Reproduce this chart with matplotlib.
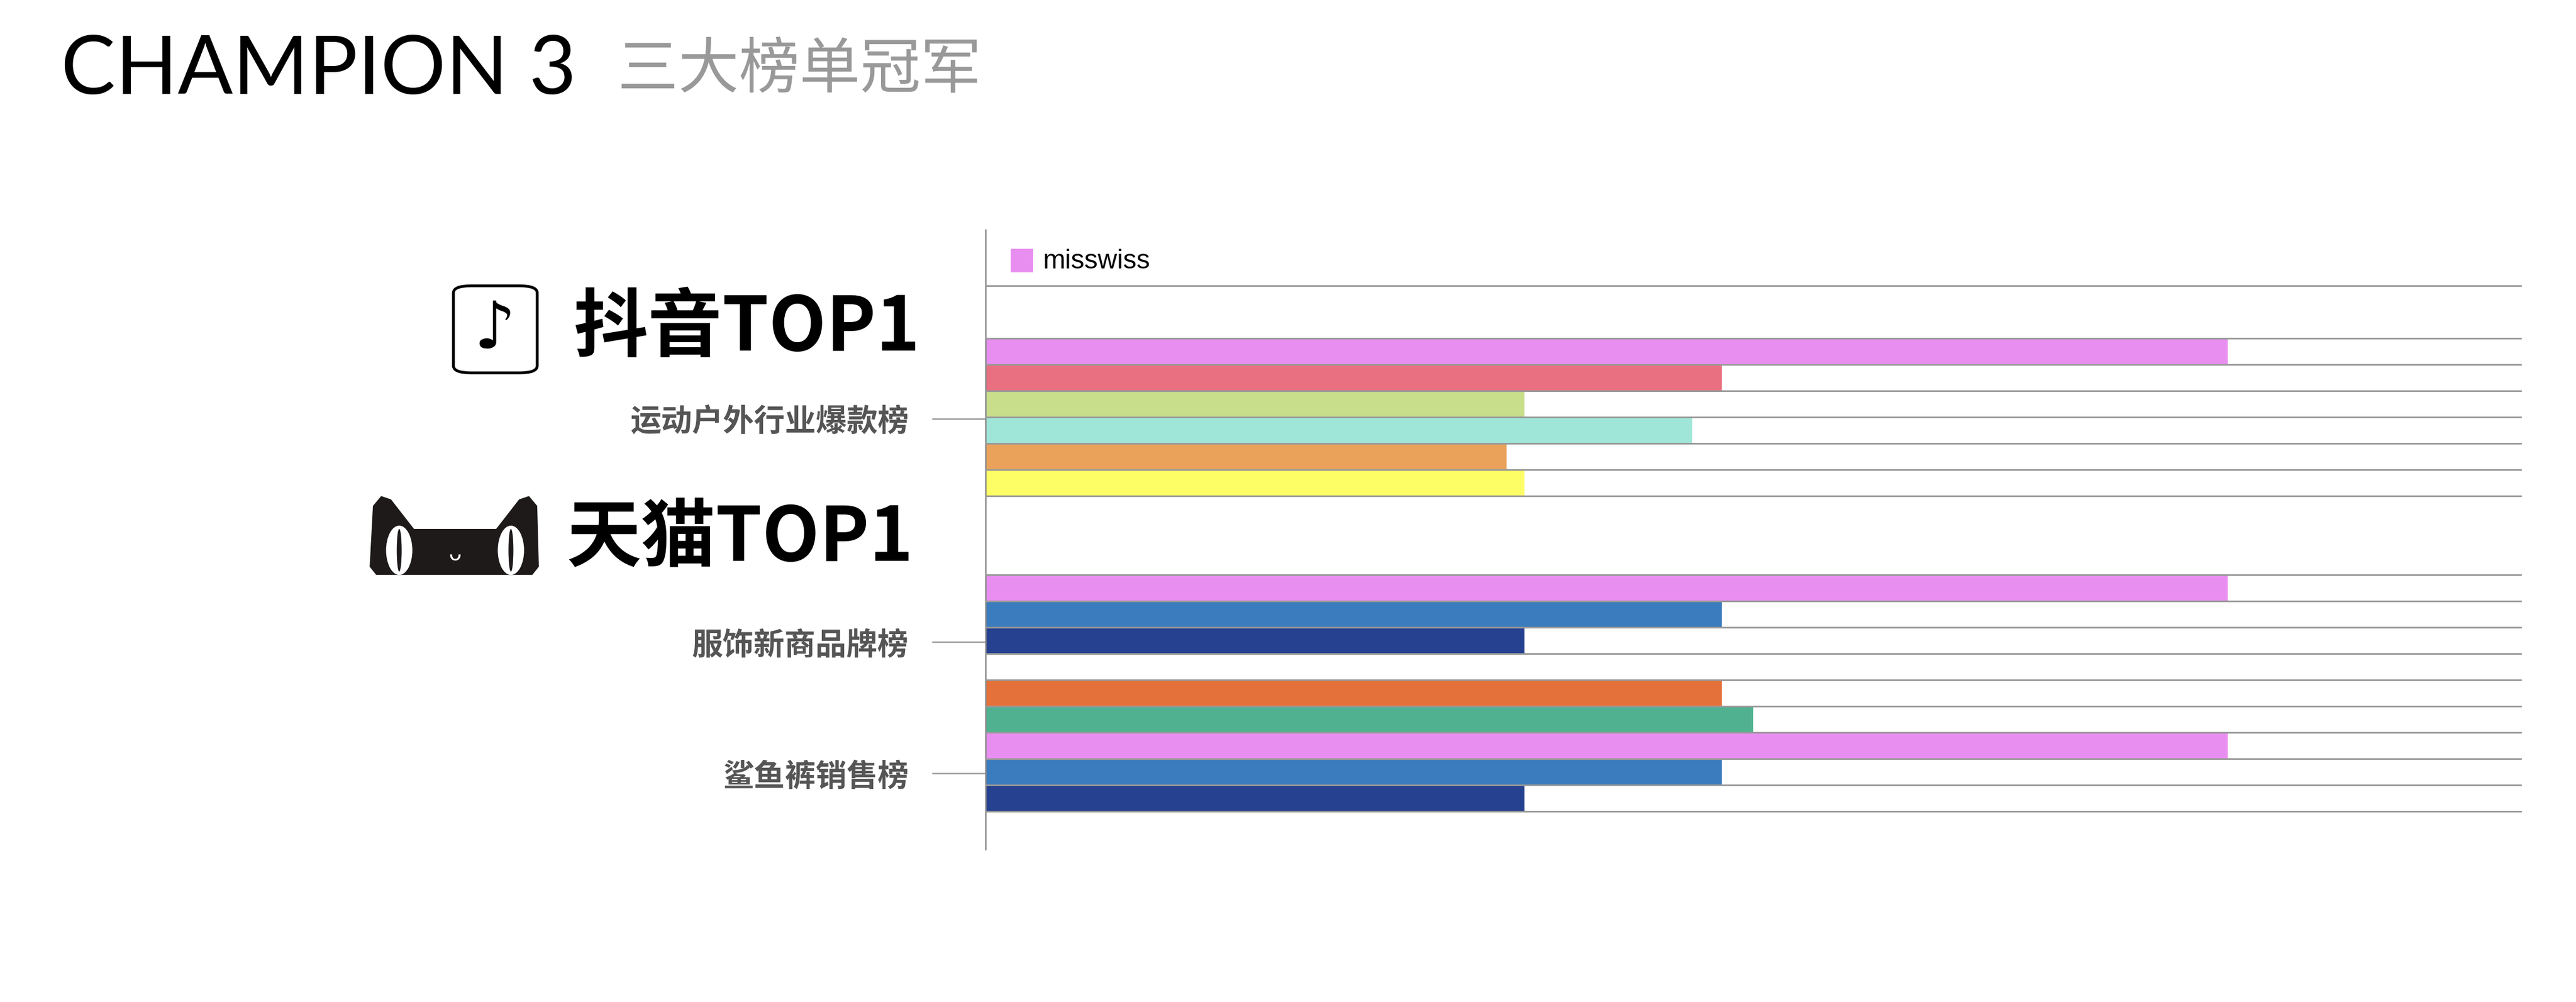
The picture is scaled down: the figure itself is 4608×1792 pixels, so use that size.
import numpy as np
import matplotlib.pyplot as plt
from matplotlib.patches import FancyBboxPatch, Polygon, Ellipse

plt.rcParams['font.family'] = ['Noto Sans CJK SC', 'DejaVu Sans']

# 数据
group_labels = ['运动户外行业爆款榜', '服饰新商品牌榜', '鲨鱼裤销售榜']
group_ticks = [5.06, 13.56, 18.56]   # where the category ticks sit (slot units)
group_values = [[756, 448, 328, 430, 317, 328],
                [756, 448, 328],
                [448, 467, 756, 448, 328]]
group_colors = [['#e88ef0', '#e87080', '#c8de8a', '#a0e6d8', '#eaa25a', '#fdfd66'],
                ['#e88ef0', '#3a7cbd', '#26418f'],
                ['#e5713a', '#50b190', '#e88ef0', '#3a7cbd', '#26418f']]
group_start = [2, 11, 15]   # slot index where each group starts
legend_label = 'misswiss'

W, H = 1568.0, 610.0
def fx(x): return x / W
def fy(y): return 1 - y / H

fig = plt.figure(figsize=(15.36, 1792 / 300))
ax = fig.add_axes([fx(600), fy(517), fx(1535) - fx(600), fy(140) - fy(517)])
ax.set_xlim(0, 935)
ax.set_ylim(21.44, -2.125)

edges = {0.0}
for start, vals, cols in zip(group_start, group_values, group_colors):
    for i, (v, c) in enumerate(zip(vals, cols)):
        y = start + i
        ax.barh(y + 0.5, v, height=1.0, color=c, edgecolor='none')
        edges.update([y, y + 1])
for e in edges:
    ax.axhline(e, color='#999999', lw=0.7, zorder=3)

for s in ['top', 'right', 'bottom']:
    ax.spines[s].set_visible(False)
ax.spines['left'].set_color('#888888')
ax.spines['left'].set_linewidth(0.6)
ax.set_xticks([])
ax.set_yticks(group_ticks)
ax.set_yticklabels(group_labels, fontsize=13.3, fontweight='bold', color='#555555')
ax.tick_params(axis='y', length=23, color='#999999', width=0.6, pad=10)

# legend
fig.patches.append(plt.Rectangle((fx(616), fy(165)), fx(628) - fx(616), fy(152) - fy(165),
                                 transform=fig.transFigure, color='#e88ef0'))
fig.text(fx(635), fy(159), legend_label, fontsize=11.5, va='center', family=['Liberation Sans'])

# title
fig.text(fx(37), fy(43), 'CHAMPION 3', fontsize=35, va='center', color='black', family=['Lato'])
fig.text(fx(376), fy(43), '三大榜单冠军', fontsize=26, va='center', color='#999999')

# platform headings
fig.text(fx(560), fy(200), '抖音TOP1', fontsize=32, fontweight='bold', va='center', ha='right')
fig.text(fx(556), fy(328), '天猫TOP1', fontsize=32, fontweight='bold', va='center', ha='right')

# douyin icon
fig.patches.append(FancyBboxPatch((fx(276), fy(227)), fx(327) - fx(276), fy(174) - fy(227),
                                  boxstyle='round,pad=0,rounding_size=0.007', transform=fig.transFigure,
                                  facecolor='white', edgecolor='black', lw=1.2))
fig.text(fx(301), fy(201), '♪', fontsize=28, fontweight='bold', ha='center', va='center',
         family=['DejaVu Sans'])

# tmall cat icon
cat = Polygon([(fx(225), fy(345)), (fx(227), fy(308)), (fx(232), fy(302)), (fx(238), fy(304)),
               (fx(252), fy(322)), (fx(302), fy(322)), (fx(316), fy(304)), (fx(322), fy(302)),
               (fx(327), fy(308)), (fx(328), fy(345)), (fx(324), fy(350)), (fx(229), fy(350))],
              closed=True, transform=fig.transFigure, facecolor='#1e1a1a', edgecolor='none')
fig.patches.append(cat)
for ex in (243, 311):
    fig.patches.append(Ellipse((fx(ex), fy(335)), fx(16), fy(319) - fy(349),
                               transform=fig.transFigure, facecolor='white'))
    fig.patches.append(Ellipse((fx(ex), fy(335)), fx(3), fy(321) - fy(347),
                               transform=fig.transFigure, facecolor='#1e1a1a'))
fig.text(fx(277), fy(338), 'ᴗ', fontsize=9, color='white', ha='center', va='center', family=['DejaVu Sans'])

fig.savefig('out.png', dpi=300, facecolor='white')
